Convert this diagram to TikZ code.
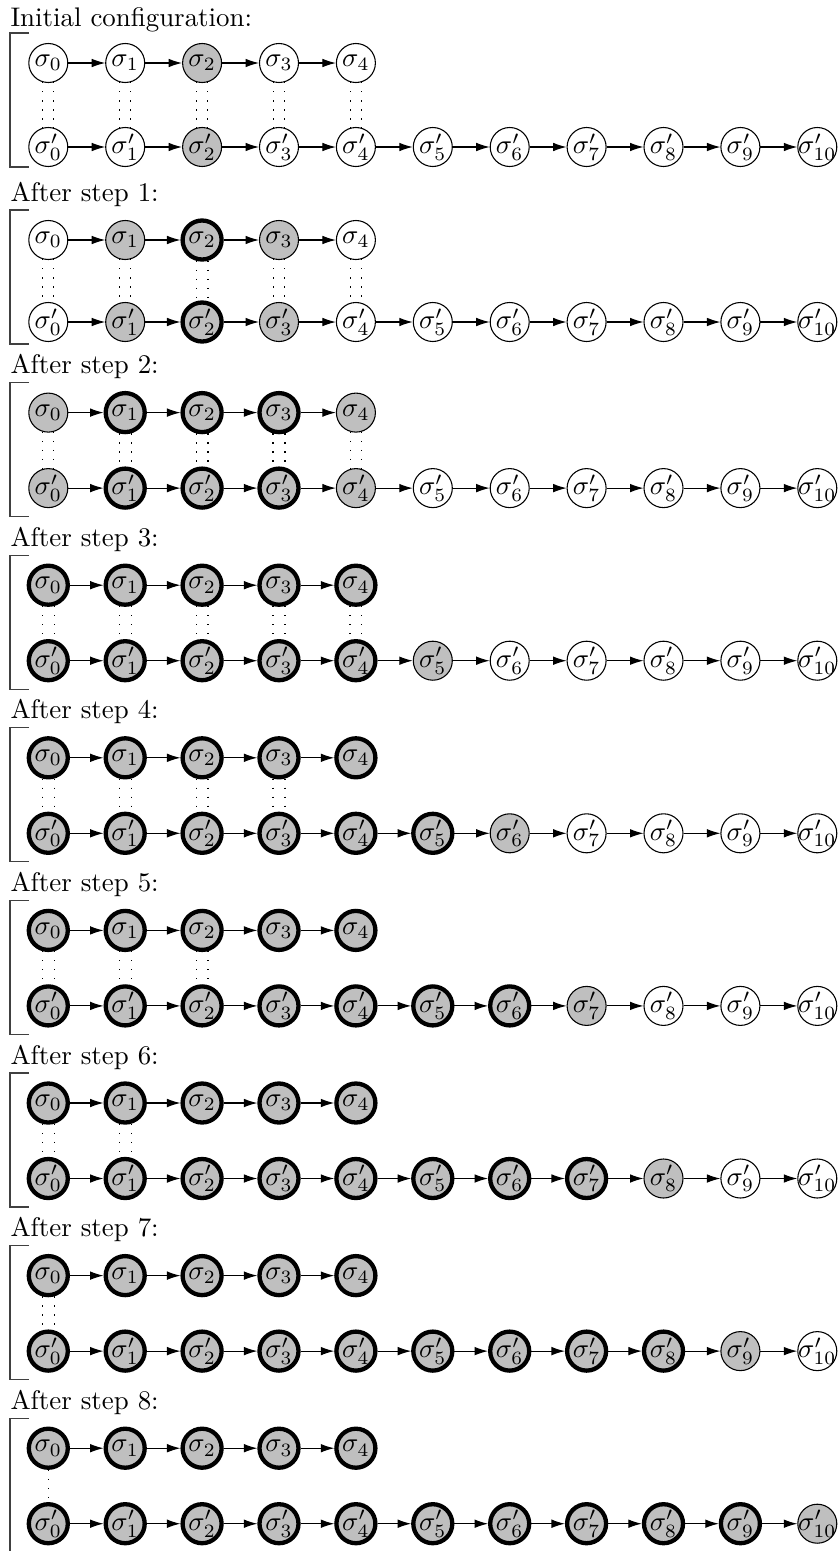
\documentclass[tikz,border=0pt]{standalone}
\usetikzlibrary{arrows.meta}
\tikzset{
  circ/.style={circle, draw, inner sep=0pt, minimum size=14.5pt, line width=0.4pt, fill=white},
  nw/.style={},
  ng/.style={fill=gray!50},
  nt/.style={fill=gray!50, line width=1.6pt},
  arr/.style={-{Latex[length=5pt,width=3.2pt]}, line width=0.4pt},
  dots/.style={dash pattern=on 0.45pt off 2.9pt, line width=0.45pt},
  brk/.style={line width=0.4pt, draw=black!75},
  ttl/.style={anchor=base west, inner sep=0pt}
}
\begin{document}
\begin{tikzpicture}[x=0.3717pt, y=-0.3717pt]
\useasboundingbox (0,0) rectangle (839,1551);
\foreach \k/\T/\B/\Y/\lab/\tops/\bots/\nd in {
  0/63/147/26/{Initial configuration:}/{nw,nw,ng,nw,nw}/{nw,nw,ng,nw,nw,nw,nw,nw,nw,nw,nw}/5,
  1/240/322/201/{After step 1:}/{nw,ng,nt,ng,nw}/{nw,ng,nt,ng,nw,nw,nw,nw,nw,nw,nw}/5,
  2/412.6/488.1/373.6/{After step 2:}/{ng,nt,nt,nt,ng}/{ng,nt,nt,nt,ng,nw,nw,nw,nw,nw,nw}/5,
  3/585.2/660.7/546.2/{After step 3:}/{nt,nt,nt,nt,nt}/{nt,nt,nt,nt,nt,ng,nw,nw,nw,nw,nw}/5,
  4/757.8/833.3/718.8/{After step 4:}/{nt,nt,nt,nt,nt}/{nt,nt,nt,nt,nt,nt,ng,nw,nw,nw,nw}/4,
  5/930.4/1005.9/891.4/{After step 5:}/{nt,nt,nt,nt,nt}/{nt,nt,nt,nt,nt,nt,nt,ng,nw,nw,nw}/3,
  6/1103/1178.5/1064/{After step 6:}/{nt,nt,nt,nt,nt}/{nt,nt,nt,nt,nt,nt,nt,nt,ng,nw,nw}/2,
  7/1275.6/1351.1/1236.6/{After step 7:}/{nt,nt,nt,nt,nt}/{nt,nt,nt,nt,nt,nt,nt,nt,nt,ng,nw}/1,
  8/1448.2/1523.7/1409.2/{After step 8:}/{nt,nt,nt,nt,nt}/{nt,nt,nt,nt,nt,nt,nt,nt,nt,nt,ng}/0%
}{
  \node[ttl] (title\k) at (10,\Y) {\lab};
  \draw[brk] (29,\T-30) -- (10,\T-30) -- (10,\T+104) -- (29,\T+104);
  \foreach \s [count=\i from 0] in \tops {
    \node[circ,\s] (p\k t\i) at ({48.3+76.9*\i},\T) {\makebox[0pt]{$\sigma_{\i}$}};
  }
  \foreach \s [count=\i from 0] in \bots {
    \node[circ,\s] (p\k b\i) at ({48.3+76.9*\i},\B) {\makebox[0pt]{$\sigma'_{\i}$}};
  }
  \foreach \i [evaluate=\i as \j using int(\i+1)] in {0,...,3} {
    \draw[arr] (p\k t\i) -- (p\k t\j);
  }
  \foreach \i [evaluate=\i as \j using int(\i+1)] in {0,...,9} {
    \draw[arr] (p\k b\i) -- (p\k b\j);
  }
  \ifnum\nd>0
    \pgfmathtruncatemacro{\last}{\nd-1}
    \foreach \i in {0,...,\last} {
      \draw[dots] (p\k t\i.-106) -- (p\k b\i.106);
      \draw[dots] (p\k t\i.-74) -- (p\k b\i.74);
    }
  \else
    \draw[dots] (p\k t0) -- (p\k b0);
  \fi
}
\end{tikzpicture}
\end{document}
